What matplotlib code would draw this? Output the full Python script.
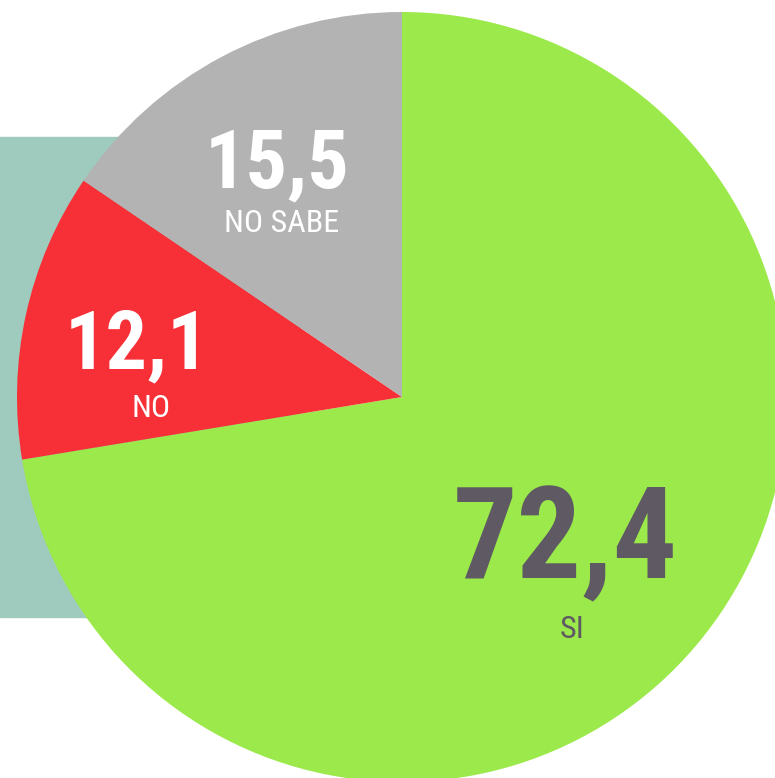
import matplotlib
matplotlib.use('Agg')
from matplotlib import pyplot as plt
from matplotlib.patches import Rectangle

labels = ['SI', 'NO', 'NO SABE']
values = [72.4, 12.1, 15.5]
value_texts = ['72,4', '12,1', '15,5']
colors = ['#9ce94b', '#f72f37', '#b3b3b3']

W, H = 775, 778
fig = plt.figure(figsize=(W / 100, H / 100), dpi=100)
ax = fig.add_axes([0, 0, 1, 1])

# teal block behind the pie
ax.add_patch(Rectangle((0, H - 617), 300, 480, color='#9ecbbd', zorder=0))

cx, cy, r = 402, H - 397, 385
ax.pie(values, colors=colors, startangle=90, counterclock=False,
       center=(cx, cy), radius=r, frame=True,
       wedgeprops=dict(linewidth=0))
ax.set_xlim(0, W)
ax.set_ylim(0, H)
ax.set_aspect('equal')
ax.axis('off')

font = ['Roboto Condensed', 'DejaVu Sans']

# x of number, baseline of number, x of label, baseline of label, sizes, colour
spots = [
    (565, 578, 572, 638, 92, 23, '#5e5962'),
    (137, 368, 151, 417, 59, 23, 'white'),
    (277, 187, 282, 232, 59, 23, 'white'),
]
for (xn, yn, xl, yl, sn, sl, col), vt, lab in zip(spots, value_texts, labels):
    ax.text(xn, H - yn, vt, ha='center', va='baseline', fontsize=sn,
            fontweight='bold', color=col, family=font)
    ax.text(xl, H - yl, lab, ha='center', va='baseline', fontsize=sl,
            color=col, family=font)

fig.savefig('out.png', dpi=100)
